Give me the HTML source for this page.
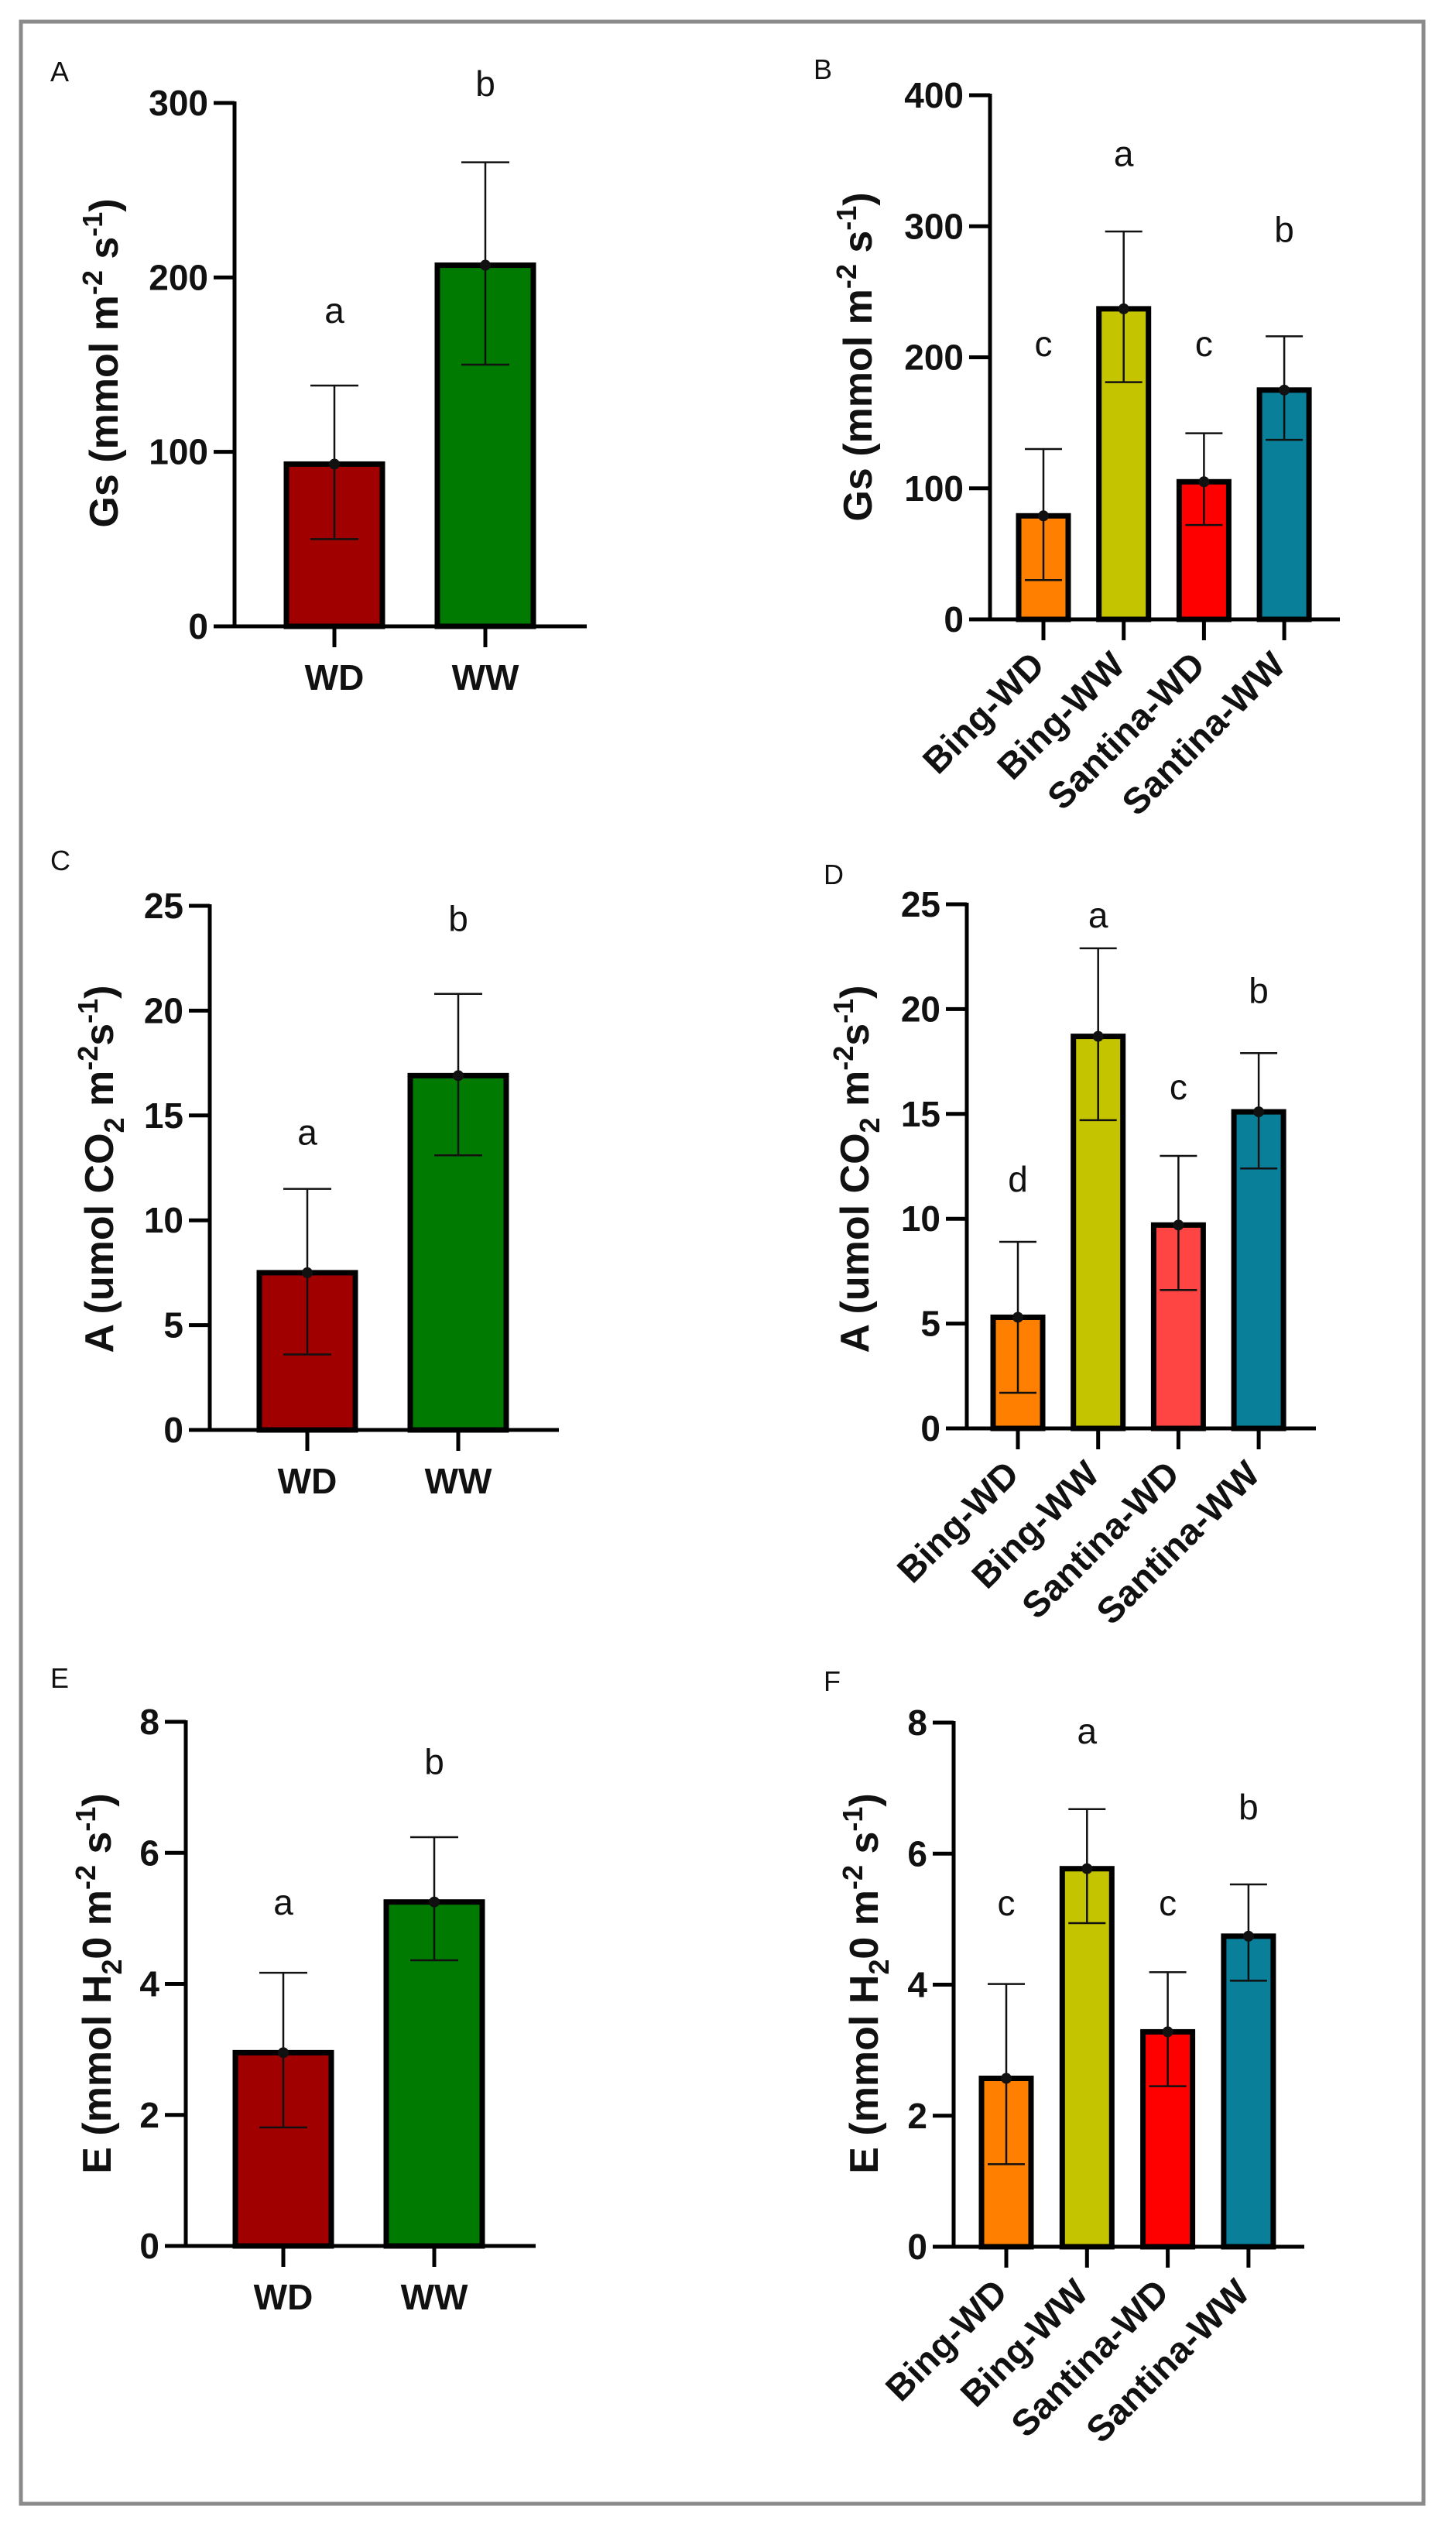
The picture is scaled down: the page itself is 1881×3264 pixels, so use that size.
<!DOCTYPE html>
<html><head><meta charset="utf-8"><title>Gas exchange panels</title>
<style>
html,body{margin:0;padding:0;background:#fff;}
svg{display:block;font-family:"Liberation Sans",Arial,sans-serif;}
</style></head>
<body>
<svg id="fig" width="1881" height="3264" viewBox="0 0 1881 3264" xmlns="http://www.w3.org/2000/svg">
<rect x="27" y="28" width="1812" height="3206" fill="none" stroke="#8a8a8a" stroke-width="5"/>
</svg>
<script>
// ---------- data ----------
const twoCats = ["WD","WW"];
const fourCats = ["Bing-WD","Bing-WW","Santina-WD","Santina-WW"];
const twoColors = ["#a00000","#007a00"];
const fourColorsB = ["#ff8000","#c4c400","#ff0000","#0a7f9a"];
const fourColorsD = ["#ff8000","#c4c400","#ff4444","#0a7f9a"];

const gsTicks = [0,100,200,300];
const gsTicksB = [0,100,200,300,400];
const aTicks = [0,5,10,15,20,25];
const eTicks = [0,2,4,6,8];

const gsA_means = [93,207];
const gsA_hi = [138,266];
const gsA_lo = [50,150];
const gsA_letters = ["a","b"];
const gsA_letterVals = [174,304];

const gsB_means = [79,237,105,175];
const gsB_hi = [130,296,142,216];
const gsB_lo = [30,181,72,137];
const gsB_letters = ["c","a","c","b"];
const gsB_letterVals = [201,346,201,288];

const aC_means = [7.5,16.9];
const aC_hi = [11.5,20.8];
const aC_lo = [3.6,13.1];
const aC_letters = ["a","b"];
const aC_letterVals = [13.6,23.8];

const aD_means = [5.3,18.7,9.7,15.1];
const aD_hi = [8.9,22.9,13.0,17.9];
const aD_lo = [1.7,14.7,6.6,12.4];
const aD_letters = ["d","a","c","b"];
const aD_letterVals = [11.3,23.9,15.7,20.3];

const eE_means = [2.95,5.25];
const eE_hi = [4.17,6.24];
const eE_lo = [1.81,4.36];
const eE_letters = ["a","b"];
const eE_letterVals = [5.06,7.2];

const eF_means = [2.57,5.77,3.28,4.74];
const eF_hi = [4.01,6.68,4.19,5.53];
const eF_lo = [1.26,4.94,2.45,4.06];
const eF_letters = ["c","a","c","b"];
const eF_letterVals = [5.06,7.68,5.06,6.52];

// ---------- drawing ----------
const NS = "http://www.w3.org/2000/svg";
const svg = document.getElementById("fig");
function mk(tag, attrs, parent, text){
  const e = document.createElementNS(NS, tag);
  for (const k in attrs) e.setAttribute(k, attrs[k]);
  if (text !== undefined) e.textContent = text;
  (parent||svg).appendChild(e);
  return e;
}

function panel(cfg){
  const g = mk("g", {});
  
  
  const ymax = cfg.ticks[cfg.ticks.length-1];
  const y = v => cfg.y0 - (v/ymax)*(cfg.y0 - cfg.yTop);
  const x = i => cfg.x0c + i*cfg.step;

  const pl = mk("text", {x:cfg.lx, y:cfg.ly, "font-size":36, fill:"#111"}, g, cfg.label);
  
  

  cfg.cats.forEach((c,i)=>{
    const top = y(cfg.means[i]);
    const r = mk("rect", {x:x(i)-cfg.bw/2, y:top, width:cfg.bw, height:cfg.y0-top, fill:cfg.colors[i], stroke:"#000", "stroke-width":7}, g);
    
    
  });
  cfg.cats.forEach((c,i)=>{
    const eg = mk("g", {stroke:"#111", "stroke-width":2.5}, g);
    
    
    mk("line", {x1:x(i), x2:x(i), y1:y(cfg.hi[i]), y2:y(cfg.lo[i])}, eg);
    mk("line", {x1:x(i)-cfg.cap, x2:x(i)+cfg.cap, y1:y(cfg.hi[i]), y2:y(cfg.hi[i])}, eg);
    mk("line", {x1:x(i)-cfg.cap, x2:x(i)+cfg.cap, y1:y(cfg.lo[i]), y2:y(cfg.lo[i])}, eg);
    const d = mk("circle", {cx:x(i), cy:y(cfg.means[i]), r:7, fill:"#111", stroke:"none"}, g);
    
    
  });
  cfg.cats.forEach((c,i)=>{
    const t = mk("text", {x:x(i), y:y(cfg.letterVals[i]), "font-size":46, "text-anchor":"middle", fill:"#111"}, g, cfg.letters[i]);
    
    
  });
  const ax = mk("g", {stroke:"#000", "stroke-width":5, fill:"none"}, g);
  
  
  mk("line", {x1:cfg.ax, x2:cfg.ax, y1:cfg.yTop-2, y2:cfg.y0+2}, ax);
  mk("line", {x1:cfg.ax-27, x2:cfg.xEnd, y1:cfg.y0, y2:cfg.y0}, ax);
  cfg.ticks.forEach(v=>{
    mk("line", {x1:cfg.ax-27, x2:cfg.ax, y1:y(v), y2:y(v)}, ax);
    const t = mk("text", {x:cfg.ax-34, y:y(v)+16, "font-size":46, "font-weight":"bold", "text-anchor":"end", fill:"#111"}, g, String(v));
    
    
  });
  cfg.cats.forEach((c,i)=>{
    mk("line", {x1:x(i), x2:x(i), y1:cfg.y0, y2:cfg.y0+27}, ax);
    let t;
    if (cfg.rot){
      const px = x(i)+4, py = cfg.y0+62;
      t = mk("text", {x:px, y:py, "font-size":47, "font-weight":"bold", "text-anchor":"end", fill:"#111", transform:`rotate(-45 ${px} ${py})`}, g, c);
    } else {
      t = mk("text", {x:x(i), y:cfg.y0+82, "font-size":46, "font-weight":"bold", "text-anchor":"middle", fill:"#111"}, g, c);
    }
    
    
  });
  const tt = mk("text", {x:0, y:0, "font-size":52, "font-weight":"bold", "text-anchor":"middle", fill:"#111",
     transform:`translate(${cfg.tx} ${cfg.ty}) rotate(-90)`}, g);
  
  
  cfg.title.forEach(p=>{
    mk("tspan", p.sub ? {"font-size":36, dy:p.dy} : (p.dy!==undefined?{dy:p.dy}:{}), tt, p.t);
  });
}

const gsTitle = [{t:"Gs (mmol m"},{t:"-2",sub:1,dy:-20},{t:" s",dy:20},{t:"-1",sub:1,dy:-20},{t:")",dy:20}];
const aTitle = [{t:"A (umol CO"},{t:"2",sub:1,dy:14},{t:" m",dy:-14},{t:"-2",sub:1,dy:-20},{t:"s",dy:20},{t:"-1",sub:1,dy:-20},{t:")",dy:20}];
const eTitle = [{t:"E (mmol H"},{t:"2",sub:1,dy:14},{t:"0 m",dy:-14},{t:"-2",sub:1,dy:-20},{t:" s",dy:20},{t:"-1",sub:1,dy:-20},{t:")",dy:20}];

panel({label:"A", lx:65, ly:105, ticks:gsTicks, y0:809, yTop:133, ax:303, xEnd:758, x0c:432, step:195, bw:124, cap:31,
  cats:twoCats, colors:twoColors, means:gsA_means, hi:gsA_hi, lo:gsA_lo, letters:gsA_letters, letterVals:gsA_letterVals,
  rot:false, title:gsTitle, tx:152, ty:469});
panel({label:"B", lx:1051, ly:102, ticks:gsTicksB, y0:800, yTop:123, ax:1279, xEnd:1731, x0c:1348, step:103.7, bw:64, cap:24,
  cats:fourCats, colors:fourColorsB, means:gsB_means, hi:gsB_hi, lo:gsB_lo, letters:gsB_letters, letterVals:gsB_letterVals,
  rot:true, title:gsTitle, tx:1126, ty:461});
panel({label:"C", lx:65, ly:1124, ticks:aTicks, y0:1847, yTop:1170, ax:271, xEnd:722, x0c:397, step:195, bw:124, cap:31,
  cats:twoCats, colors:twoColors, means:aC_means, hi:aC_hi, lo:aC_lo, letters:aC_letters, letterVals:aC_letterVals,
  rot:false, title:aTitle, tx:146, ty:1510});
panel({label:"D", lx:1064, ly:1142, ticks:aTicks, y0:1845, yTop:1168, ax:1249, xEnd:1700, x0c:1315, step:103.7, bw:64, cap:24,
  cats:fourCats, colors:fourColorsD, means:aD_means, hi:aD_hi, lo:aD_lo, letters:aD_letters, letterVals:aD_letterVals,
  rot:true, title:aTitle, tx:1122, ty:1510});
panel({label:"E", lx:65, ly:2180, ticks:eTicks, y0:2901, yTop:2224, ax:240, xEnd:692, x0c:366, step:195, bw:124, cap:31,
  cats:twoCats, colors:twoColors, means:eE_means, hi:eE_hi, lo:eE_lo, letters:eE_letters, letterVals:eE_letterVals,
  rot:false, title:eTitle, tx:143, ty:2562});
panel({label:"F", lx:1064, ly:2184, ticks:eTicks, y0:2902, yTop:2225, ax:1232, xEnd:1685, x0c:1300, step:104.3, bw:64, cap:24,
  cats:fourCats, colors:fourColorsB, means:eF_means, hi:eF_hi, lo:eF_lo, letters:eF_letters, letterVals:eF_letterVals,
  rot:true, title:eTitle, tx:1134, ty:2562});
</script>
</body></html>
